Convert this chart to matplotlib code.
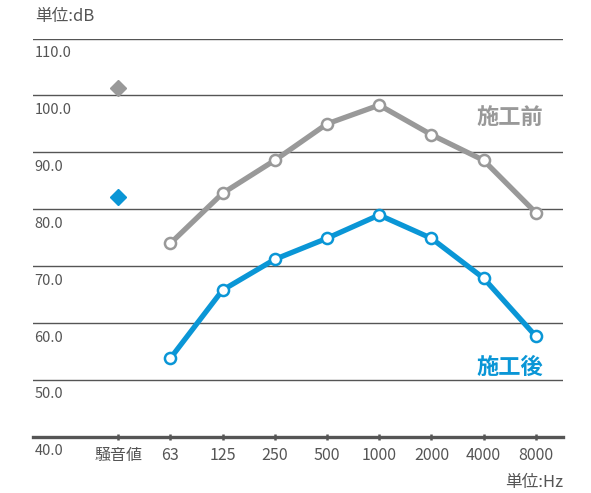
import matplotlib
matplotlib.use("Agg")
import matplotlib.pyplot as plt

plt.rcParams['font.family'] = ['Noto Sans CJK JP', 'DejaVu Sans']

# 騒音値 + octave band centres
categories = ['騒音値', '63', '125', '250', '500', '1000', '2000', '4000', '8000']
before_total = 101.3   # 施工前 騒音値
after_total = 82.2     # 施工後 騒音値
before = [74.0, 82.8, 88.6, 95.0, 98.3, 93.1, 88.6, 79.4]
after = [53.8, 65.8, 71.2, 74.9, 79.0, 74.9, 67.9, 57.7]
yticks = [40, 50, 60, 70, 80, 90, 100, 110]

gray = '#999999'
blue = '#0a96d6'
grid = '#555555'
txt = '#555555'

fig = plt.figure(figsize=(5.91, 4.93), dpi=100)
ax = fig.add_axes([0.0558, 0.1136, 0.8968, 0.8083])

x_bands = list(range(1, len(categories)))
ax.plot(x_bands, before, color=gray, lw=3.8, marker='o', ms=8,
        mfc='white', mec=gray, mew=1.8, zorder=4, solid_capstyle='round')
ax.plot(x_bands, after, color=blue, lw=3.8, marker='o', ms=8,
        mfc='white', mec=blue, mew=1.8, zorder=4, solid_capstyle='round')
ax.plot([0], [before_total], marker='D', ms=8, color=gray, ls='none', zorder=4)
ax.plot([0], [after_total], marker='D', ms=8, color=blue, ls='none', zorder=4)

ax.set_xlim(-1.63, 8.52)
ax.set_ylim(40, 110)

# horizontal grid lines with labels sitting just under each line
for v in yticks[1:]:
    ax.axhline(v, color=grid, lw=1.0, zorder=1)
for v in yticks:
    ax.text(-1.6, v - 1.3, f'{v:.1f}', ha='left', va='top', fontsize=10.5,
            color=txt)

for s in ['top', 'right', 'left']:
    ax.spines[s].set_visible(False)
ax.spines['bottom'].set_color(txt)
ax.spines['bottom'].set_linewidth(2.4)
ax.set_yticks([])
ax.set_xticks(range(len(categories)))
ax.set_xticklabels(categories, fontsize=11.5, color=txt)
ax.tick_params(axis='x', direction='inout', length=5, width=1.8,
               color=txt, pad=5)

ax.text(7.5, 96.1, '施工前', color=gray, fontsize=16, fontweight='bold',
        ha='center', va='center')
ax.text(7.5, 52.3, '施工後', color=blue, fontsize=16, fontweight='bold',
        ha='center', va='center')

fig.text(35 / 591, 1 - 17 / 493, '単位:dB', fontsize=12, color=txt,
         ha='left', va='center')
fig.text(563 / 591, 1 - 482 / 493, '単位:Hz', fontsize=12, color=txt,
         ha='right', va='center')

fig.savefig('out.png', dpi=100)
